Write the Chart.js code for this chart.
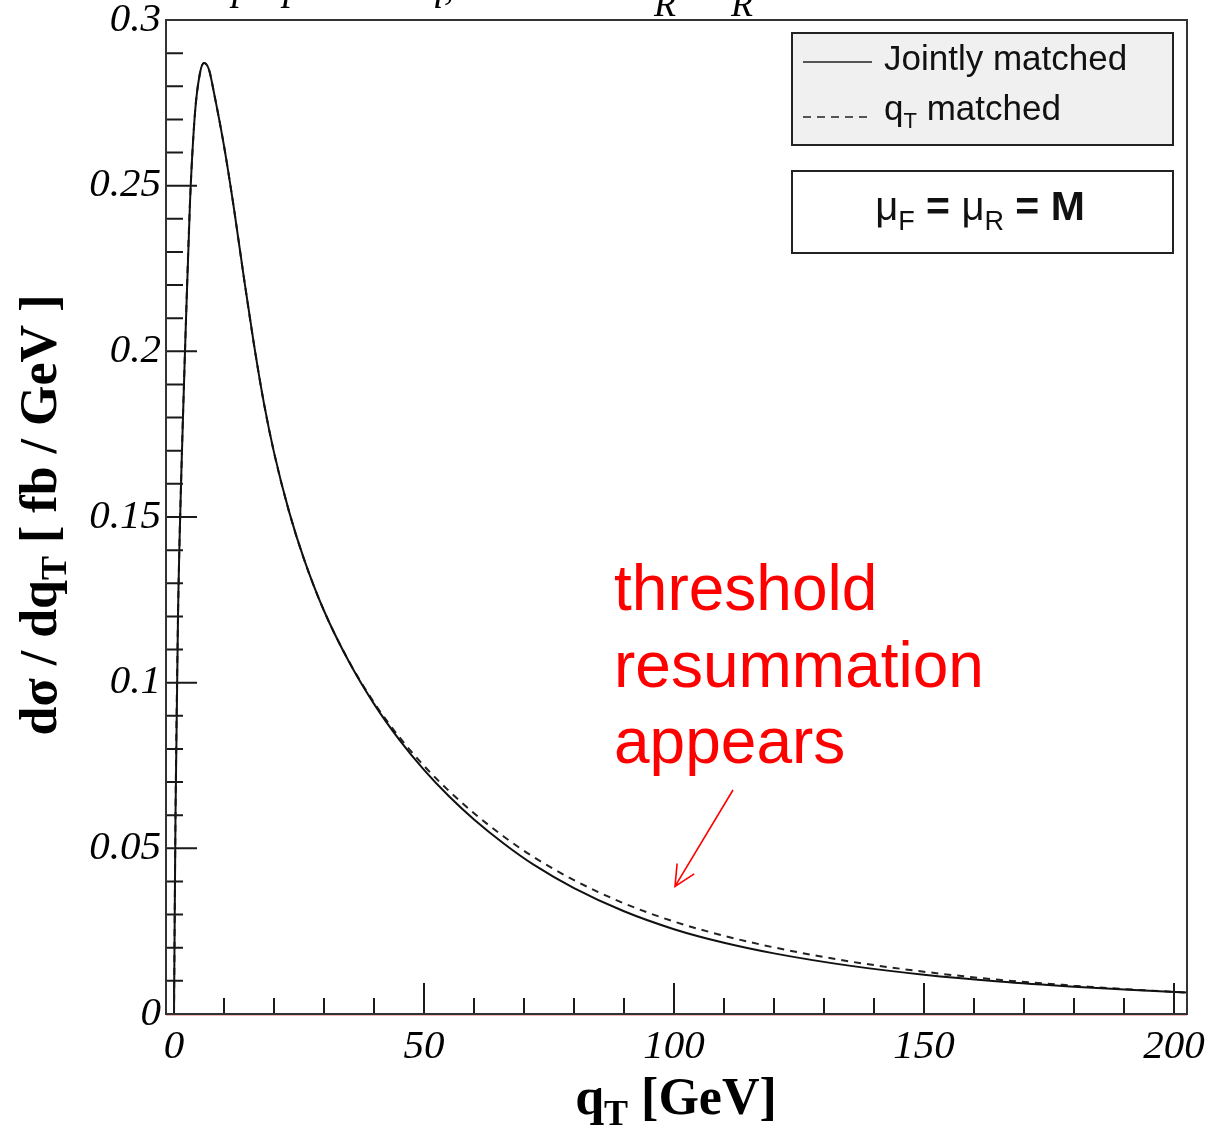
<!DOCTYPE html>
<html>
<head>
<meta charset="utf-8">
<script src="https://cdn.jsdelivr.net/npm/chart.js@4.4.1/dist/chart.umd.min.js"></script>
<style>
  html, body { margin: 0; padding: 0; background: #fff; }
  #wrap { width: 1209px; height: 1130px; }
</style>
</head>
<body>
<div id="wrap"><canvas id="qtChart" width="1209" height="1130"></canvas></div>
<script>
// q_T grid [GeV]
const qtValues = [0, 0.3, 0.8, 1.5, 2.2, 3.2, 4.2, 5.2, 6, 7, 8, 10, 12, 14, 16, 18, 20, 23, 26, 30,
                  35, 40, 45, 50, 55, 60, 66, 72, 80, 90, 100, 110, 120, 135, 150, 165, 180, 192, 202.6];

// d sigma / d q_T [fb/GeV]
const jointlyMatched = [0, 0.06, 0.12, 0.165, 0.2, 0.245, 0.272, 0.284, 0.287, 0.285, 0.278, 0.262, 0.243,
                        0.222, 0.202, 0.1842, 0.1695, 0.1517, 0.1373, 0.1217, 0.1063, 0.0936, 0.0829,
                        0.0737, 0.0657, 0.0587, 0.0514, 0.045, 0.038, 0.031, 0.0256, 0.0215, 0.0183,
                        0.0146, 0.01186, 0.00981, 0.00825, 0.00724, 0.00648];
const qtMatched = [0, 0.06, 0.12, 0.165, 0.2, 0.245, 0.272, 0.284, 0.287, 0.285, 0.278, 0.262, 0.243,
                   0.222, 0.202, 0.1842, 0.1695, 0.1517, 0.1373, 0.1217, 0.1064, 0.094, 0.0837,
                   0.0749, 0.0673, 0.0606, 0.0535, 0.0473, 0.0404, 0.0334, 0.0279, 0.0236, 0.0201,
                   0.0159, 0.01276, 0.01031, 0.00855, 0.00734, 0.00648];

const xTickLabels = [0, 50, 100, 150, 200];
const yTickLabels = [0, 0.05, 0.1, 0.15, 0.2, 0.25, 0.3];

const toPoints = (ys) => qtValues.map((q, i) => ({ x: q, y: ys[i] }));

// draws a run of text pieces (used for subscripts)
function drawParts(ctx, parts, x, y, align) {
    let width = 0;
    parts.forEach(p => { ctx.font = p.font; width += ctx.measureText(p.text).width; });
    let cx = align === 'center' ? x - width / 2 : x;
    parts.forEach(p => {
        ctx.font = p.font;
        ctx.fillText(p.text, cx, y + (p.dy || 0));
        cx += ctx.measureText(p.text).width;
    });
}

const frameAndTicks = {
    id: 'frameAndTicks',
    afterDatasetsDraw(chart) {
        const { ctx, chartArea: a, scales: { x, y } } = chart;
        ctx.save();
        // faint line under the x axis
        ctx.strokeStyle = '#f0b8b8';
        ctx.lineWidth = 1;
        ctx.beginPath();
        ctx.moveTo(a.left, a.bottom + 1.5);
        ctx.lineTo(a.right, a.bottom + 1.5);
        ctx.stroke();

        ctx.strokeStyle = '#1a1a1a';
        ctx.lineWidth = 2;
        ctx.beginPath();
        for (let v = 0; v <= 200; v += 10) {
            const px = x.getPixelForValue(v);
            const len = v % 50 === 0 ? 31 : 16;
            ctx.moveTo(px, a.bottom);
            ctx.lineTo(px, a.bottom - len);
        }
        for (let i = 0; i <= 30; i++) {
            const py = y.getPixelForValue(i / 100);
            const len = i % 5 === 0 ? 31 : 17;
            ctx.moveTo(a.left, py);
            ctx.lineTo(a.left + len, py);
        }
        ctx.stroke();
        ctx.strokeStyle = '#333';
        ctx.strokeRect(a.left, a.top, a.right - a.left, a.bottom - a.top);
        ctx.restore();
    }
};

const labelsAndNotes = {
    id: 'labelsAndNotes',
    afterDraw(chart) {
        const { ctx, scales: { x, y } } = chart;
        ctx.save();
        ctx.fillStyle = '#000';
        ctx.textBaseline = 'alphabetic';

        // clipped title above the frame
        ctx.font = 'italic 40px "Liberation Serif"';
        ctx.fillText('p', 232, -1);
        ctx.fillText('p', 283, -1);
        ctx.fillText('q,', 424, -1);
        ctx.font = 'italic 36px "Liberation Serif"';
        ctx.fillText('R', 654, 16);
        ctx.fillText('R', 731, 16);

        // axis titles
        const big = 'bold 52px "Liberation Serif"';
        const sub = 'bold 36px "Liberation Serif"';
        drawParts(ctx, [
            { text: 'q', font: big },
            { text: 'T', font: sub, dy: 11 },
            { text: ' [GeV]', font: big }
        ], 676, 1114, 'center');

        ctx.save();
        ctx.translate(56, 515);
        ctx.rotate(-Math.PI / 2);
        drawParts(ctx, [
            { text: 'd\u03c3 / dq', font: 'bold 52px "Liberation Serif"' },
            { text: 'T', font: 'bold 36px "Liberation Serif"', dy: 10 },
            { text: ' [ fb / GeV ]', font: 'bold 52px "Liberation Serif"' }
        ], 0, 0, 'center');
        ctx.restore();

        // legend box
        ctx.fillStyle = '#f0f0f0';
        ctx.fillRect(792, 33, 381, 112);
        ctx.strokeStyle = '#222';
        ctx.lineWidth = 2;
        ctx.strokeRect(792, 33, 381, 112);
        ctx.lineWidth = 1.6;
        ctx.beginPath();
        ctx.moveTo(803, 62);
        ctx.lineTo(872, 62);
        ctx.stroke();
        ctx.setLineDash([8, 6]);
        ctx.beginPath();
        ctx.moveTo(803, 117);
        ctx.lineTo(872, 117);
        ctx.stroke();
        ctx.setLineDash([]);
        ctx.fillStyle = '#111';
        const lf = '35px "Liberation Sans"';
        drawParts(ctx, [{ text: 'Jointly matched', font: lf }], 884, 70);
        drawParts(ctx, [
            { text: 'q', font: lf },
            { text: 'T', font: '22px "Liberation Sans"', dy: 8 },
            { text: ' matched', font: lf }
        ], 884, 120);

        // scale box
        ctx.fillStyle = '#fff';
        ctx.fillRect(792, 171, 381, 82);
        ctx.lineWidth = 2;
        ctx.strokeRect(792, 171, 381, 82);
        ctx.fillStyle = '#111';
        const mf = '40px "Liberation Sans"';
        const mb = 'bold 41px "Liberation Sans"';
        const ms = '27px "Liberation Sans"';
        drawParts(ctx, [
            { text: '\u03bc', font: mf },
            { text: 'F', font: ms, dy: 10 },
            { text: ' = ', font: mb },
            { text: '\u03bc', font: mf },
            { text: 'R', font: ms, dy: 10 },
            { text: ' = M', font: mb }
        ], 980, 220, 'center');

        // annotation
        ctx.fillStyle = '#ff0000';
        ctx.font = '64px "Liberation Sans"';
        ctx.fillText('threshold', 614, 610);
        ctx.fillText('resummation', 614, 687);
        ctx.fillText('appears', 614, 763);

        const tipX = x.getPixelForValue(100.2), tipY = y.getPixelForValue(0.0385);
        const tailX = x.getPixelForValue(111.8), tailY = y.getPixelForValue(0.0676);
        const ang = Math.atan2(tailY - tipY, tailX - tipX);
        ctx.strokeStyle = '#ff0000';
        ctx.lineWidth = 1.6;
        ctx.beginPath();
        ctx.moveTo(tailX, tailY);
        ctx.lineTo(tipX, tipY);
        ctx.moveTo(tipX + 23 * Math.cos(ang - 0.45), tipY + 23 * Math.sin(ang - 0.45));
        ctx.lineTo(tipX, tipY);
        ctx.lineTo(tipX + 23 * Math.cos(ang + 0.45), tipY + 23 * Math.sin(ang + 0.45));
        ctx.stroke();
        ctx.restore();
    }
};

const tickFont = { family: 'Liberation Serif', style: 'italic', size: 41 };

new Chart(document.getElementById('qtChart'), {
    type: 'line',
    data: {
        datasets: [{
            label: 'Jointly matched',
            data: toPoints(jointlyMatched),
            borderColor: '#111',
            borderWidth: 2,
            pointRadius: 0,
            cubicInterpolationMode: 'monotone'
        }, {
            label: 'qT matched',
            data: toPoints(qtMatched),
            borderColor: '#222',
            borderWidth: 2,
            borderDash: [7, 6],
            pointRadius: 0,
            cubicInterpolationMode: 'monotone'
        }]
    },
    options: {
        responsive: false,
        animation: false,
        devicePixelRatio: 1,
        layout: { padding: { top: 20, right: 22, left: 0, bottom: 0 } },
        plugins: { legend: { display: false }, tooltip: { enabled: false } },
        scales: {
            x: {
                type: 'linear',
                min: -1.6,
                max: 202.6,
                afterBuildTicks: s => { s.ticks = xTickLabels.map(v => ({ value: v })); },
                afterFit: s => { s.height = 116; s.paddingLeft = 0; s.paddingRight = 0; },
                grid: { display: false, drawTicks: false },
                border: { display: false },
                ticks: {
                    font: tickFont, color: '#000', padding: 9,
                    maxRotation: 0, autoSkip: false,
                    callback: v => String(v)
                }
            },
            y: {
                type: 'linear',
                min: 0,
                max: 0.3,
                afterBuildTicks: s => { s.ticks = yTickLabels.map(v => ({ value: v })); },
                afterFit: s => { s.width = 166; s.paddingTop = 0; s.paddingBottom = 0; },
                grid: { display: false, drawTicks: false },
                border: { display: false },
                ticks: {
                    font: tickFont, color: '#000', padding: 5,
                    autoSkip: false,
                    callback: v => String(v)
                }
            }
        }
    },
    plugins: [frameAndTicks, labelsAndNotes]
});
</script>
</body>
</html>
